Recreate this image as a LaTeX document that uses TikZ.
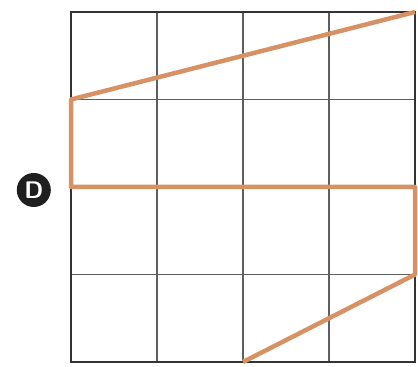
\documentclass[tikz,border=0pt]{standalone}
\usepackage{tikz}
\usetikzlibrary{positioning}
\definecolor{routeorange}{RGB}{214,146,100}
\definecolor{gridgray}{RGB}{95,95,95}
\begin{document}
\begin{tikzpicture}[
  x=86pt, y=87.5pt,
  gridline/.style={draw=gridgray, line width=1.6pt},
  frame/.style={draw=black!80, line width=2.6pt},
  route/.style={draw=routeorange, line width=4.5pt, line join=round},
  marker/.style={circle, fill=black!88, text=white, font=\sffamily\bfseries\fontsize{24}{24}\selectfont, inner sep=0pt, minimum size=34pt}
]
\useasboundingbox (-0.8256,-0.0571) rectangle (4.0349,4.1371);
% grid
\foreach \i in {1,2,3} {
  \draw[gridline] (\i,0) -- (\i,4);
  \draw[gridline] (0,\i) -- (4,\i);
}
\draw[frame] (0,0) rectangle (4,4);
% route corners
\coordinate (start) at (0,2);
\coordinate (upleft) at (0,3);
\coordinate (topright) at (4,4);
\coordinate (midright) at (4,2);
\coordinate (lowright) at (4,1);
\coordinate (bottom) at (2,0);
\draw[route] (topright) -- (upleft) -- (start) -- (midright) -- (lowright) -- (bottom);
% start marker
\node[marker, left=20pt of start, yshift=-3pt] (D) {D};
\end{tikzpicture}
\end{document}
